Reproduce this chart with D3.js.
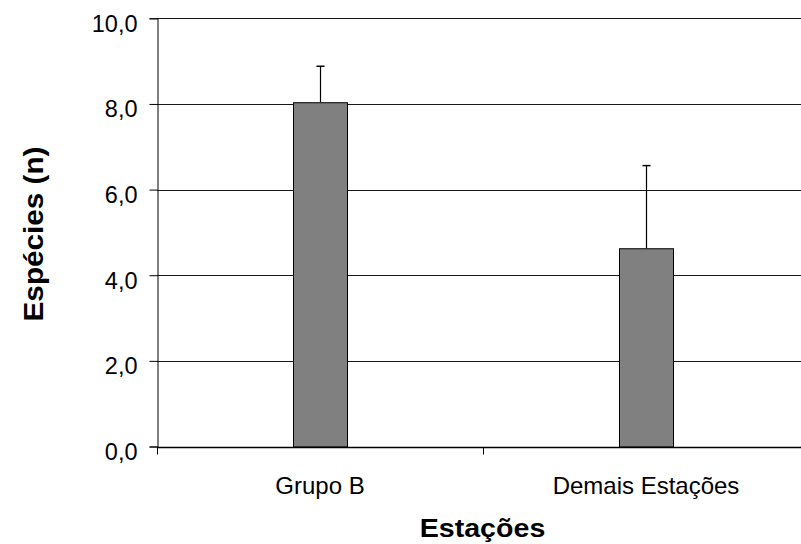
<!DOCTYPE html>
<html>
<head>
<meta charset="utf-8">
<script src="https://cdn.jsdelivr.net/npm/d3@7"></script>
<style>
  html, body { margin: 0; padding: 0; background: #fff; }
  svg { display: block; font-family: "Liberation Sans", Arial, sans-serif; }
</style>
</head>
<body>
<svg id="chart" width="801" height="544"></svg>
<script>
const categories = ["Grupo B", "Demais Estações"];
const means = [8.04, 4.63];
const upperErrors = [0.84, 1.93];
const yTicks = [0, 2, 4, 6, 8, 10];
const xTitle = "Estações";
const yTitle = "Espécies (n)";

(function () {
const svg = d3.select("#chart");
const pLeft = 157, pRight = 809, pTop = 18.3, pBottom = 446.5;

const x = d3.scaleBand().domain(categories).range([pLeft, pRight]).padding(0);
const y = d3.scaleLinear().domain([0, 10]).range([pBottom, pTop]);
const barW = 54;
const fmt = v => d3.format(".1f")(v).replace(".", ",");

function stretchText(factor) {
  return sel => sel.each(function () {
    const w = this.getComputedTextLength();
    d3.select(this).attr("textLength", w * factor).attr("lengthAdjust", "spacingAndGlyphs");
  });
}

// gridlines
svg.append("g").selectAll("line").data(yTicks.filter(d => d > 0)).join("line")
  .attr("x1", pLeft).attr("x2", pRight)
  .attr("y1", d => Math.round(y(d)) + 0.5).attr("y2", d => Math.round(y(d)) + 0.5)
  .attr("stroke", "#1a1a1a").attr("stroke-width", 1);

// y axis
const yAxis = svg.append("g").attr("transform", `translate(${pLeft + 0.5},0)`)
  .call(d3.axisLeft(y).tickValues(yTicks).tickFormat(fmt).tickSize(8).tickPadding(12));
yAxis.select(".domain").attr("stroke", "#000");
yAxis.selectAll(".tick line").attr("stroke", "#000");
yAxis.selectAll(".tick text")
  .attr("font-size", 23.5).attr("fill", "#000")
  .attr("font-family", "Liberation Sans, Arial, sans-serif")
  .attr("dy", "0.55em");

// bars
svg.append("g").selectAll("rect").data(categories).join("rect")
  .attr("x", d => x(d) + x.bandwidth() / 2 - barW / 2 + 0.5)
  .attr("y", (d, i) => y(means[i]) + 0.5)
  .attr("width", barW)
  .attr("height", (d, i) => y(0) - y(means[i]))
  .attr("fill", "#808080")
  .attr("stroke", "#000").attr("stroke-width", 1);

// error bars (upper only)
const eb = svg.append("g");
categories.forEach((c, i) => {
  const cx = Math.round(x(c) + x.bandwidth() / 2) + 0.5;
  eb.append("line").attr("x1", cx).attr("x2", cx)
    .attr("y1", y(means[i])).attr("y2", y(means[i] + upperErrors[i]))
    .attr("stroke", "#000").attr("stroke-width", 1.2);
  eb.append("line").attr("x1", cx - 4).attr("x2", cx + 4)
    .attr("y1", y(means[i] + upperErrors[i])).attr("y2", y(means[i] + upperErrors[i]))
    .attr("stroke", "#000").attr("stroke-width", 1.5);
});

// x axis
const xAxisG = svg.append("g").attr("transform", `translate(0,${Math.round(pBottom) + 0.5})`);
xAxisG.append("line").attr("x1", pLeft).attr("x2", pRight).attr("stroke", "#000").attr("stroke-width", 1.5);
const bounds = [pLeft, pLeft + x.bandwidth(), pRight];
xAxisG.selectAll("line.tk").data(bounds).join("line").attr("class", "tk")
  .attr("x1", d => Math.round(d) + 0.5).attr("x2", d => Math.round(d) + 0.5)
  .attr("y1", 0).attr("y2", 7).attr("stroke", "#000");
xAxisG.selectAll("text").data(categories).join("text")
  .attr("x", d => x(d) + x.bandwidth() / 2)
  .attr("y", 493.5 - Math.round(pBottom) - 0.5)
  .attr("text-anchor", "middle")
  .attr("font-size", 24).attr("fill", "#000")
  .text(d => d);

// axis titles
svg.append("text")
  .attr("x", (pLeft + pRight) / 2 - 0.5).attr("y", 536.7)
  .attr("text-anchor", "middle").attr("font-weight", "bold").attr("font-size", 26)
  .text(xTitle).call(stretchText(1.1));

svg.append("text")
  .attr("transform", "translate(43,234) rotate(-90)")
  .attr("text-anchor", "middle").attr("font-weight", "bold").attr("font-size", 28)
  .text(yTitle).call(stretchText(1.06));
})();
</script>
</body>
</html>
